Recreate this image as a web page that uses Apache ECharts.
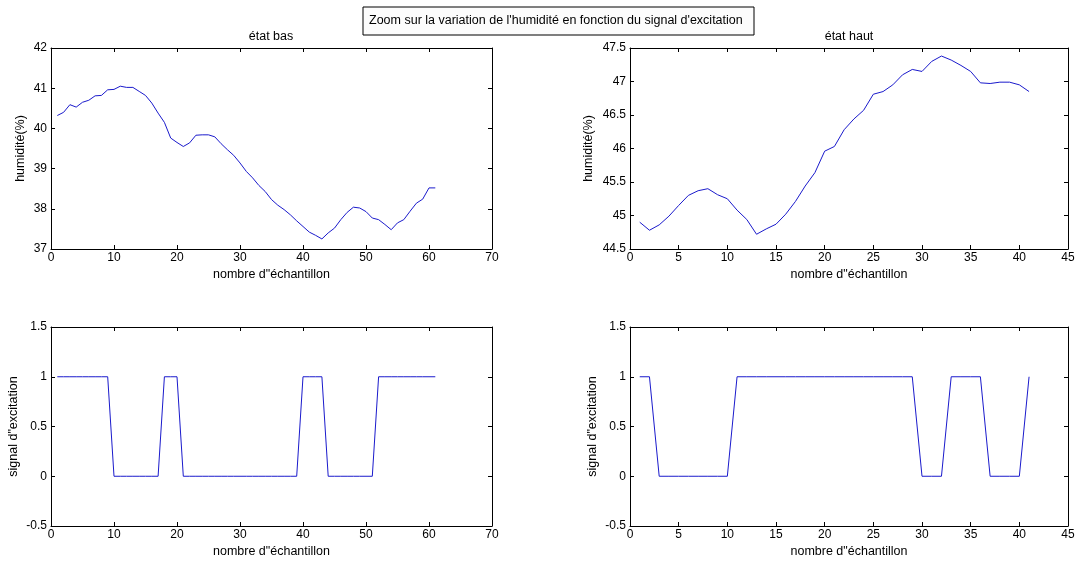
<!DOCTYPE html>
<html>
<head>
<meta charset="utf-8">
<script src="https://cdn.jsdelivr.net/npm/echarts@6/dist/echarts.min.js"></script>
<style>
html,body{margin:0;padding:0;background:#fff;}
#c{width:1086px;height:565px;}
</style>
</head>
<body>
<div id="c"></div>
<script>
// ---- data ----
const mainTitle = "Zoom sur la variation de l'humidité en fonction du signal d'excitation";
const subTitles = ["état bas", "état haut"];
const xName = "nombre d\"échantillon";
const yNameTop = "humidité(%)";
const yNameBottom = "signal d\"excitation";

const samplesBas = [1,2,3,4,5,6,7,8,9,10,11,12,13,14,15,16,17,18,19,20,21,22,23,24,25,26,27,28,29,30,31,32,33,34,35,36,37,38,39,40,41,42,43,44,45,46,47,48,49,50,51,52,53,54,55,56,57,58,59,60,61];
const humiditeBas = [40.32,40.40,40.59,40.53,40.65,40.70,40.81,40.82,40.96,40.97,41.05,41.02,41.02,40.92,40.82,40.63,40.38,40.15,39.76,39.65,39.55,39.64,39.83,39.84,39.84,39.79,39.62,39.47,39.33,39.14,38.93,38.77,38.58,38.43,38.23,38.09,37.98,37.85,37.70,37.56,37.42,37.34,37.25,37.40,37.52,37.73,37.91,38.04,38.02,37.93,37.77,37.73,37.61,37.48,37.65,37.73,37.94,38.14,38.24,38.52,38.52];
const signalBas = [1,1,1,1,1,1,1,1,1,0,0,0,0,0,0,0,0,1,1,1,0,0,0,0,0,0,0,0,0,0,0,0,0,0,0,0,0,0,0,1,1,1,1,0,0,0,0,0,0,0,0,1,1,1,1,1,1,1,1,1,1];

const samplesHaut = [1,2,3,4,5,6,7,8,9,10,11,12,13,14,15,16,17,18,19,20,21,22,23,24,25,26,27,28,29,30,31,32,33,34,35,36,37,38,39,40,41];
const humiditeHaut = [44.90,44.78,44.86,44.99,45.15,45.30,45.37,45.40,45.31,45.25,45.08,44.94,44.72,44.80,44.87,45.02,45.21,45.44,45.64,45.96,46.03,46.28,46.44,46.57,46.81,46.85,46.95,47.10,47.18,47.15,47.30,47.38,47.32,47.24,47.15,46.98,46.97,46.99,46.99,46.95,46.85];
const signalHaut = [1,1,0,0,0,0,0,0,0,0,1,1,1,1,1,1,1,1,1,1,1,1,1,1,1,1,1,1,1,0,0,0,1,1,1,1,0,0,0,0,1];

const xTicksBas = {min:0, max:70, interval:10};
const xTicksHaut = {min:0, max:45, interval:5};
const yTicksBas = {min:37, max:42, interval:1};
const yTicksHaut = {min:44.5, max:47.5, interval:0.5};
const yTicksSignal = {min:-0.5, max:1.5, interval:0.5};

// ---- chart ----
const FONT = "Liberation Sans, Arial, sans-serif";
const TXT = 12.5, TICK = 12;
const chart = echarts.init(document.getElementById('c'), null, {renderer:'canvas'});

const grids = [
  {left:51, top:48, width:441, height:201},
  {left:630, top:48, width:438, height:201},
  {left:51, top:327, width:441, height:199},
  {left:630, top:327, width:438, height:199}
];
const xCfg = [xTicksBas, xTicksHaut, xTicksBas, xTicksHaut];
const yCfg = [yTicksBas, yTicksHaut, yTicksSignal, yTicksSignal];
const yNames = [yNameTop, yNameTop, yNameBottom, yNameBottom];
const yNameGaps = [24, 35, 31, 31];

const xAxes = [], yAxes = [];
grids.forEach((g, i) => {
  const base = {
    type:'value', gridIndex:i, splitLine:{show:false},
    axisLine:{show:true, onZero:false, lineStyle:{color:'#000', width:1}},
    axisTick:{show:true, inside:true, length:4, lineStyle:{color:'#000'}}
  };
  xAxes.push(Object.assign({}, base, xCfg[i], {
    position:'bottom',
    name:xName, nameLocation:'middle', nameGap:19,
    nameTextStyle:{color:'#000', fontSize:TXT, fontFamily:FONT},
    axisLabel:{color:'#000', fontSize:TICK, fontFamily:FONT, margin:3}
  }));
  xAxes.push(Object.assign({}, base, xCfg[i], {
    position:'top', axisLabel:{show:false}
  }));
  yAxes.push(Object.assign({}, base, yCfg[i], {
    position:'left',
    name:yNames[i], nameLocation:'middle', nameGap:yNameGaps[i], nameRotate:90,
    nameTextStyle:{color:'#000', fontSize:TXT, fontFamily:FONT},
    axisLabel:{color:'#000', fontSize:TICK, fontFamily:FONT, margin:4}
  }));
  yAxes.push(Object.assign({}, base, yCfg[i], {
    position:'right', axisLabel:{show:false}
  }));
});

function pairs(xs, ys){ return xs.map((x, k) => [x, ys[k]]); }
const seriesData = [
  pairs(samplesBas, humiditeBas),
  pairs(samplesHaut, humiditeHaut),
  pairs(samplesBas, signalBas),
  pairs(samplesHaut, signalHaut)
];

const series = seriesData.map((d, i) => ({
  type:'line', xAxisIndex:2*i, yAxisIndex:2*i, data:d,
  showSymbol:false, symbol:'none', animation:false,
  lineStyle:{color:'#1a1acc', width:1}
}));

chart.setOption({
  backgroundColor:'#fff',
  animation:false,
  title:[
    {text:mainTitle, left:369, top:14, textStyle:{fontSize:TXT, fontWeight:'normal', color:'#000', fontFamily:FONT}, padding:0},
    {text:subTitles[0], left:271, top:30, textAlign:'center', textStyle:{fontSize:TXT, fontWeight:'normal', color:'#000', fontFamily:FONT}, padding:0},
    {text:subTitles[1], left:849, top:30, textAlign:'center', textStyle:{fontSize:TXT, fontWeight:'normal', color:'#000', fontFamily:FONT}, padding:0}
  ],
  graphic:[{
    type:'rect', z:-1, shape:{x:363, y:7, width:391, height:28},
    style:{fill:'#fcfcfc', stroke:'#000', lineWidth:1}
  }],
  grid:grids,
  xAxis:xAxes,
  yAxis:yAxes,
  series:series
});
</script>
</body>
</html>
